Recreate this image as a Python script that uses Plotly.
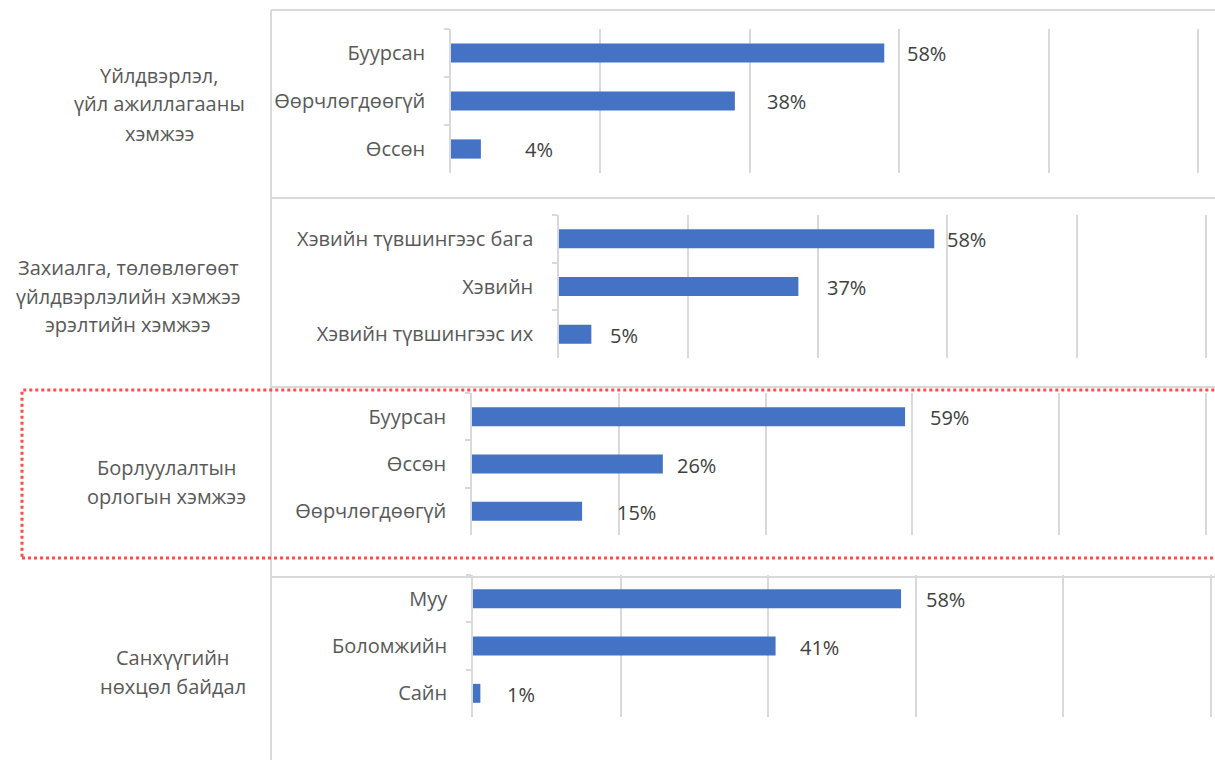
import plotly.graph_objects as go

W, H = 1215, 760

# ---- data ----
group_titles = [
    ["Үйлдвэрлэл,", "үйл ажиллагааны", "хэмжээ"],
    ["Захиалга, төлөвлөгөөт", "үйлдвэрлэлийн хэмжээ", "эрэлтийн хэмжээ"],
    ["Борлуулалтын", "орлогын хэмжээ"],
    ["Санхүүгийн", "нөхцөл байдал"],
]
cats1 = ["Буурсан", "Өөрчлөгдөөгүй", "Өссөн"]
vals1 = [0.58, 0.38, 0.04]
cats2 = ["Хэвийн түвшингээс бага", "Хэвийн", "Хэвийн түвшингээс их"]
vals2 = [0.58, 0.37, 0.05]
cats3 = ["Буурсан", "Өссөн", "Өөрчлөгдөөгүй"]
vals3 = [0.59, 0.26, 0.15]
cats4 = ["Муу", "Боломжийн", "Сайн"]
vals4 = [0.58, 0.41, 0.01]
grid_ticks = [0, 0.2, 0.4, 0.6, 0.8, 1.0]

categories = [cats1, cats2, cats3, cats4]
values = [vals1, vals2, vals3, vals4]

# ---- layout geometry (page pixels: position of 0% and 100%) ----
panel_x = [(451, 1198), (559, 1206), (472, 1206), (473, 1211)]
panel_y = [(29, 173), (215, 358), (393, 535), (575, 717)]
label_gap = [[21, 30, 42], [11, 27, 17], [23, 12, 33], [23, 22, 25]]
title_center_x = [159, 128, 166, 173]
title_center_y = [104, 296, 482, 672]
LINE_H = 29
XMAX = 1.004  # slight headroom so the 100% gridline is drawn

BAR = "#4472C4"
GRID = "#d9d9d9"
TXT = "#595959"
FONT = "Open Sans"
FS = 20


def px(x):
    return x / W


def py(y):
    return 1 - y / H


fig = go.Figure()
annotations = []

for i in range(4):
    sfx = "" if i == 0 else str(i + 1)
    fig.add_trace(go.Bar(
        x=values[i], y=categories[i], orientation="h",
        marker=dict(color=BAR, line=dict(width=0)),
        xaxis="x" + sfx, yaxis="y" + sfx, showlegend=False,
        hoverinfo="skip",
    ))
    x0, x1 = panel_x[i]
    x1e = x0 + (x1 - x0) * XMAX
    y0, y1 = panel_y[i]
    fig.update_layout(**{
        "xaxis" + sfx: dict(
            domain=[px(x0), min(1.0, px(x1e))], range=[0, XMAX], anchor="y" + sfx,
            showticklabels=False, showgrid=True, gridcolor=GRID, gridwidth=1.5,
            tickmode="array", tickvals=grid_ticks,
            zeroline=False, showline=False, fixedrange=True, automargin=False,
        ),
        "yaxis" + sfx: dict(
            domain=[py(y1), py(y0)], anchor="x" + sfx,
            type="category", categoryorder="array", categoryarray=categories[i],
            autorange="reversed",
            showline=True, linecolor=GRID, linewidth=1.5,
            ticks="outside", tickson="boundaries", ticklen=5, tickcolor=GRID,
            tickwidth=1.5, showgrid=False,
            tickfont=dict(family=FONT, size=FS, color=TXT),
            ticklabelstandoff=20, automargin=False, fixedrange=True,
        ),
    })
    for j, (c, v) in enumerate(zip(categories[i], values[i])):
        annotations.append(dict(
            x=v, y=c, xref="x" + sfx, yref="y" + sfx,
            text=f"{round(v * 100)}%", showarrow=False,
            xanchor="left", xshift=label_gap[i][j], yshift=-1,
            font=dict(family=FONT, size=FS, color="#404040"),
        ))
    lines = group_titles[i]
    n = len(lines)
    for k, line in enumerate(lines):
        yc = title_center_y[i] + (k - (n - 1) / 2) * LINE_H
        annotations.append(dict(
            x=px(title_center_x[i]), y=py(yc), xref="paper", yref="paper",
            text=line, showarrow=False, xanchor="center", yanchor="middle",
            font=dict(family=FONT, size=FS, color=TXT),
        ))

shapes = [
    dict(type="line", xref="paper", yref="paper", x0=px(271), x1=px(271),
         y0=py(10), y1=0, line=dict(color=GRID, width=2)),
]
for yy in [10, 198, 387, 577]:
    shapes.append(dict(type="line", xref="paper", yref="paper", x0=px(271), x1=1,
                       y0=py(yy), y1=py(yy), line=dict(color=GRID, width=2)))
shapes.append(dict(type="rect", xref="paper", yref="paper", x0=px(22), x1=1.01,
                   y0=py(558), y1=py(390),
                   line=dict(color="#ff4b4b", width=3, dash="dot")))

fig.update_layout(
    width=W, height=H, margin=dict(l=0, r=0, t=0, b=0),
    paper_bgcolor="white", plot_bgcolor="white",
    bargap=0.6, annotations=annotations, shapes=shapes,
    font=dict(family=FONT, color=TXT),
)

fig.write_html(
    "out.html",
    config={"displayModeBar": False},
    post_script="document.body.style.margin='0';document.body.style.overflow='hidden';",
)
